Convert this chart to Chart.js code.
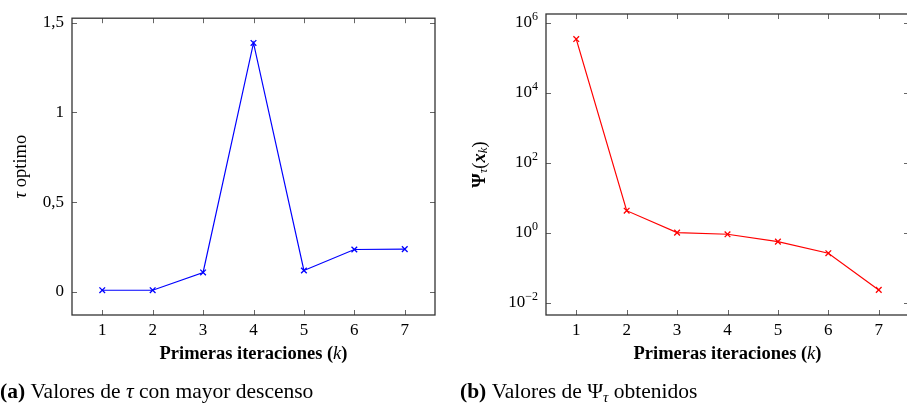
<!DOCTYPE html>
<html>
<head>
<meta charset="utf-8">
<script src="https://cdn.jsdelivr.net/npm/chart.js@4.4.1/dist/chart.umd.min.js"></script>
<style>
  html, body { margin: 0; padding: 0; background: #fff; overflow: hidden; }
  body { width: 907px; height: 404px; position: relative; }
  .panel { position: absolute; top: 0; height: 404px; }
  #panelA { left: 0; width: 453px; }
  #panelB { left: 460px; width: 460px; }
</style>
</head>
<body>
<div class="panel" id="panelA"><canvas id="chartTau"></canvas></div>
<div class="panel" id="panelB"><canvas id="chartPsi"></canvas></div>
<script>
// datos
const iteraciones = [1, 2, 3, 4, 5, 6, 7];
const tauOptimo = [0.009, 0.009, 0.108, 1.387, 0.119, 0.236, 0.238];
const psiTau = [3.42e5, 4.25, 1.0, 0.90, 0.553, 0.258, 0.0231];
const tauTicks = [0, 0.5, 1, 1.5];
const tauTickLabels = ["0", "0,5", "1", "1,5"];
const psiTicks = [1e-2, 1, 1e2, 1e4, 1e6];
const psiExponents = ["\u22122", "0", "2", "4", "6"];

const SERIF = '"Liberation Serif", "Times New Roman", serif';

// dibuja trozos de texto con distintas fuentes, centrados en (x, y)
function drawRuns(ctx, runs, x, y, align) {
    let total = 0;
    runs.forEach(r => {
        ctx.font = r.font;
        r.w = ctx.measureText(r.text).width;
        total += r.w;
    });
    let cx = align === "left" ? x : x - total / 2;
    runs.forEach(r => {
        ctx.font = r.font;
        ctx.fillText(r.text, cx, y + (r.dy || 0));
        cx += r.w;
    });
}

const marco = {
    id: "marco",
    afterDraw(chart, args, opts) {
        const { ctx, chartArea: a, scales } = chart;
        ctx.save();
        ctx.strokeStyle = "#666";
        ctx.lineWidth = 1;
        ctx.beginPath();
        scales.x.ticks.forEach(t => {
            const px = Math.round(scales.x.getPixelForValue(t.value)) + 0.5;
            ctx.moveTo(px, a.bottom); ctx.lineTo(px, a.bottom - 5);
            ctx.moveTo(px, a.top); ctx.lineTo(px, a.top + 5);
        });
        scales.y.ticks.forEach(t => {
            const py = Math.round(scales.y.getPixelForValue(t.value)) + 0.5;
            ctx.moveTo(a.left, py); ctx.lineTo(a.left + 5, py);
            ctx.moveTo(a.right, py); ctx.lineTo(a.right - 5, py);
        });
        ctx.stroke();
        ctx.strokeStyle = "#333";
        ctx.lineWidth = 1.3;
        ctx.strokeRect(a.left, a.top, a.right - a.left, a.bottom - a.top);

        ctx.fillStyle = "#000";
        ctx.textBaseline = "middle";
        // titulo eje x
        drawRuns(ctx, [
            { text: "Primeras iteraciones (", font: "bold 18.5px " + SERIF },
            { text: "k", font: "italic 18.5px " + SERIF },
            { text: ")", font: "bold 18.5px " + SERIF }
        ], (a.left + a.right) / 2, 354);

        // titulo eje y (rotado)
        ctx.save();
        ctx.translate(opts.yTitleX, (a.top + a.bottom) / 2);
        ctx.rotate(-Math.PI / 2);
        drawRuns(ctx, opts.yTitle, 0, 0);
        ctx.restore();

        // etiquetas log con exponente
        if (opts.logLabels) {
            ctx.textBaseline = "middle";
            scales.y.ticks.forEach((t, i) => {
                const py = scales.y.getPixelForValue(t.value);
                ctx.font = "17px " + SERIF;
                const wb = ctx.measureText("10").width;
                ctx.font = "12px " + SERIF;
                const we = ctx.measureText(psiExponents[i]).width;
                const x0 = a.left - 8 - wb - we;
                ctx.font = "17px " + SERIF;
                ctx.fillText("10", x0, py);
                ctx.font = "12px " + SERIF;
                ctx.fillText(psiExponents[i], x0 + wb, py - 6);
            });
        }

        // leyenda de la subfigura
        ctx.textBaseline = "alphabetic";
        drawRuns(ctx, opts.caption, 0, 398, "left");
        ctx.restore();
    }
};

function baseOptions(yScale, padRight, yWidth, extra) {
    return {
        responsive: false,
        animation: false,
        layout: { padding: { top: 14, right: padRight, bottom: 0, left: 0 } },
        plugins: { legend: { display: false }, tooltip: { enabled: false }, marco: extra },
        scales: {
            x: {
                type: "linear",
                min: 0.4,
                max: 7.6,
                afterBuildTicks: s => { s.ticks = iteraciones.map(v => ({ value: v })); },
                afterFit: s => { s.height = 89; },
                grid: { display: false, drawTicks: false },
                border: { display: false },
                ticks: {
                    padding: 5,
                    color: "#000",
                    font: { family: SERIF, size: 17 },
                    callback: v => String(v)
                }
            },
            y: Object.assign({
                afterFit: s => { s.width = yWidth; },
                grid: { display: false, drawTicks: false },
                border: { display: false }
            }, yScale)
        }
    };
}

const dataset = (vals, color) => ({
    data: iteraciones.map((k, i) => ({ x: k, y: vals[i] })),
    borderColor: color,
    backgroundColor: color,
    borderWidth: 1.2,
    pointStyle: "crossRot",
    pointRadius: 4,
    pointBorderWidth: 1.3,
    tension: 0
});

const cTau = document.getElementById("chartTau");
cTau.width = 453; cTau.height = 404;
new Chart(cTau, {
    type: "line",
    data: { datasets: [dataset(tauOptimo, "#0000ff")] },
    options: baseOptions({
        type: "linear",
        min: -0.129,
        max: 1.525,
        afterBuildTicks: s => { s.ticks = tauTicks.map(v => ({ value: v })); },
        ticks: {
            padding: 8,
            color: "#000",
            font: { family: SERIF, size: 17 },
            callback: (v) => tauTickLabels[tauTicks.indexOf(v)]
        }
    }, 18, 72, {
        yTitleX: 21,
        yTitle: [
            { text: "\u03c4", font: "italic 18.5px " + SERIF },
            { text: " optimo", font: "18.5px " + SERIF }
        ],
        caption: [
            { text: "(a)", font: "bold 21.5px " + SERIF },
            { text: " Valores de ", font: "21.5px " + SERIF },
            { text: "\u03c4", font: "italic 21.5px " + SERIF },
            { text: " con mayor descenso", font: "21.5px " + SERIF }
        ]
    }),
    plugins: [marco]
});

const cPsi = document.getElementById("chartPsi");
cPsi.width = 460; cPsi.height = 404;
new Chart(cPsi, {
    type: "line",
    data: { datasets: [dataset(psiTau, "#ff0000")] },
    options: baseOptions({
        type: "logarithmic",
        min: Math.pow(10, -2.354),
        max: Math.pow(10, 6.251),
        afterBuildTicks: s => { s.ticks = psiTicks.map(v => ({ value: v })); },
        ticks: { display: true, callback: () => "" }
    }, 11, 86, {
        yTitleX: 20,
        logLabels: true,
        yTitle: [
            { text: "\u03a8", font: "bold 18.5px " + SERIF },
            { text: "\u03c4", font: "italic 13px " + SERIF, dy: 4 },
            { text: "(", font: "18.5px " + SERIF },
            { text: "x", font: "bold italic 18.5px " + SERIF },
            { text: "k", font: "italic 13px " + SERIF, dy: 4 },
            { text: ")", font: "18.5px " + SERIF }
        ],
        caption: [
            { text: "(b)", font: "bold 21.5px " + SERIF },
            { text: " Valores de \u03a8", font: "21.5px " + SERIF },
            { text: "\u03c4", font: "italic 15px " + SERIF, dy: 4 },
            { text: " obtenidos", font: "21.5px " + SERIF }
        ]
    }),
    plugins: [marco]
});
</script>
</body>
</html>
